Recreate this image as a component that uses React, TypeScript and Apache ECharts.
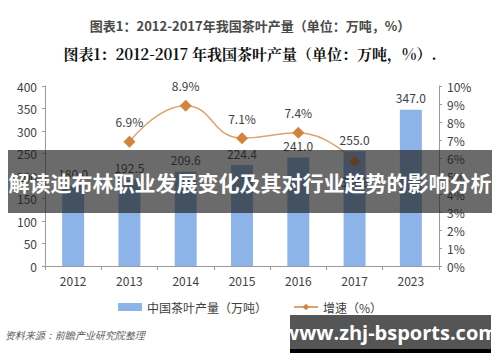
import React, { useEffect, useRef } from "react";
import * as echarts from "echarts";

const years = ["2012", "2013", "2014", "2015", "2016", "2017", "2023"];
const production = [180.0, 192.5, 209.6, 224.4, 241.0, 255.0, 347.0];
const growth: (number | null)[] = [null, 6.9, 8.9, 7.1, 7.4, 5.8, null];
const growthLabelBelow = ["2017"];
const leftTicks = { min: 0, max: 400, interval: 50 };
const rightTicks = { min: 0, max: 10, interval: 1 };

const titleGray = "图表1：2012-2017年我国茶叶产量（单位：万吨，%）";
const titleBlack = "图表1：2012-2017 年我国茶叶产量（单位：万吨，%）.";
const overlayText = "解读迪布林职业发展变化及其对行业趋势的影响分析";
const sourceText = "资料来源：前瞻产业研究院整理";
const siteText = "www.zhj-bsports.com";

export default function App() {
  const ref = useRef<HTMLDivElement>(null);
  useEffect(() => {
    const chart = echarts.init(ref.current!, null, { renderer: "svg" });
    const axisColor = "#9a9a9a";
    const labelColor = "#404040";
    const growthData = growth.map((v, i) =>
      growthLabelBelow.includes(years[i])
        ? { value: v, label: { position: "bottom", distance: 8 } }
        : v
    );
    chart.setOption({
      animation: false,
      backgroundColor: "#ffffff",
      textStyle: { fontFamily: "'Noto Sans CJK SC', 'Noto Sans', sans-serif" },
      grid: { left: 45, right: 61, top: 86, bottom: 96, containLabel: false },
      legend: {
        bottom: 44,
        left: "center",
        itemGap: 26,
        itemWidth: 24,
        itemHeight: 8,
        textStyle: { fontSize: 12, color: "#404040" },
        data: [
          { name: "中国茶叶产量（万吨）", icon: "rect" },
          { name: "增速（%）" },
        ],
      },
      xAxis: {
        type: "category",
        data: years,
        axisLine: { lineStyle: { color: axisColor } },
        axisTick: { show: true, length: 4, lineStyle: { color: axisColor } },
        axisLabel: { color: labelColor, fontSize: 12, margin: 8 },
      },
      yAxis: [
        {
          type: "value",
          ...leftTicks,
          axisLine: { show: true, lineStyle: { color: axisColor } },
          axisTick: { show: true, length: 3, lineStyle: { color: axisColor } },
          splitLine: { show: false },
          axisLabel: { color: labelColor, fontSize: 12, margin: 8 },
        },
        {
          type: "value",
          ...rightTicks,
          position: "right",
          axisLine: { show: true, lineStyle: { color: axisColor } },
          axisTick: { show: true, length: 3, lineStyle: { color: axisColor } },
          splitLine: { show: false },
          axisLabel: { color: labelColor, fontSize: 12, margin: 8, formatter: "{value}%" },
        },
      ],
      series: [
        {
          name: "中国茶叶产量（万吨）",
          type: "bar",
          data: production,
          barWidth: "39%",
          itemStyle: { color: "#8db4e8" },
          label: {
            show: true,
            position: "top",
            distance: 6,
            color: "#404040",
            fontSize: 12,
            formatter: (p: any) => p.value.toFixed(1),
          },
        },
        {
          name: "增速（%）",
          type: "line",
          yAxisIndex: 1,
          data: growthData,
          smooth: 0.5,
          symbol: "diamond",
          symbolSize: 12,
          connectNulls: false,
          lineStyle: { color: "#dca46c", width: 1.5 },
          itemStyle: { color: "#d4823c" },
          label: {
            show: true,
            position: "top",
            distance: 8,
            color: "#404040",
            fontSize: 12,
            formatter: (p: any) => (p.value == null ? "" : Number(p.value).toFixed(1) + "%"),
          },
        },
      ],
      graphic: [
        {
          type: "text",
          left: "center",
          top: 19,
          z: 100,
          style: {
            text: titleGray,
            fontSize: 13,
            fontWeight: "bold",
            fill: "#4a4a4a",
            fontFamily: "'Noto Sans CJK SC', sans-serif",
          },
        },
        {
          type: "text",
          left: "center",
          top: 46,
          z: 100,
          style: {
            text: titleBlack,
            fontSize: 15,
            fontWeight: "bold",
            fill: "#111111",
            fontFamily: "'Noto Serif CJK SC', 'Noto Sans CJK SC', serif",
          },
        },
        {
          type: "text",
          left: 5,
          top: 330,
          z: 100,
          style: {
            text: sourceText,
            fontSize: 10,
            fontStyle: "italic",
            fill: "#555555",
          },
        },
        {
          type: "rect",
          shape: { x: 8, y: 150, width: 484, height: 63 },
          z: 200,
          style: { fill: "rgba(30,30,30,0.66)" },
        },
        {
          type: "text",
          x: 250,
          y: 182,
          z: 201,
          style: {
            text: overlayText,
            fontSize: 21,
            fontWeight: "bold",
            fill: "#ffffff",
            align: "center",
            verticalAlign: "middle",
            fontFamily: "'Noto Sans CJK SC', sans-serif",
          },
        },
        {
          type: "rect",
          shape: { x: 290, y: 315, width: 201, height: 35 },
          z: 200,
          style: { fill: "rgba(70,70,70,0.92)" },
        },
        {
          type: "rect",
          shape: { x: 290, y: 349, width: 201, height: 4 },
          z: 200,
          style: { fill: "#000000" },
        },
        {
          type: "text",
          x: 390,
          y: 332,
          z: 201,
          style: {
            text: siteText,
            fontSize: 20,
            fontWeight: "bold",
            fill: "#ffffff",
            align: "center",
            verticalAlign: "middle",
            fontFamily: "'Open Sans', 'Noto Sans', sans-serif",
          },
        },
      ],
    });
    return () => chart.dispose();
  }, []);
  return (
    <div
      ref={ref}
      style={{ position: "fixed", left: 0, top: 0, width: 500, height: 362 }}
    />
  );
}
